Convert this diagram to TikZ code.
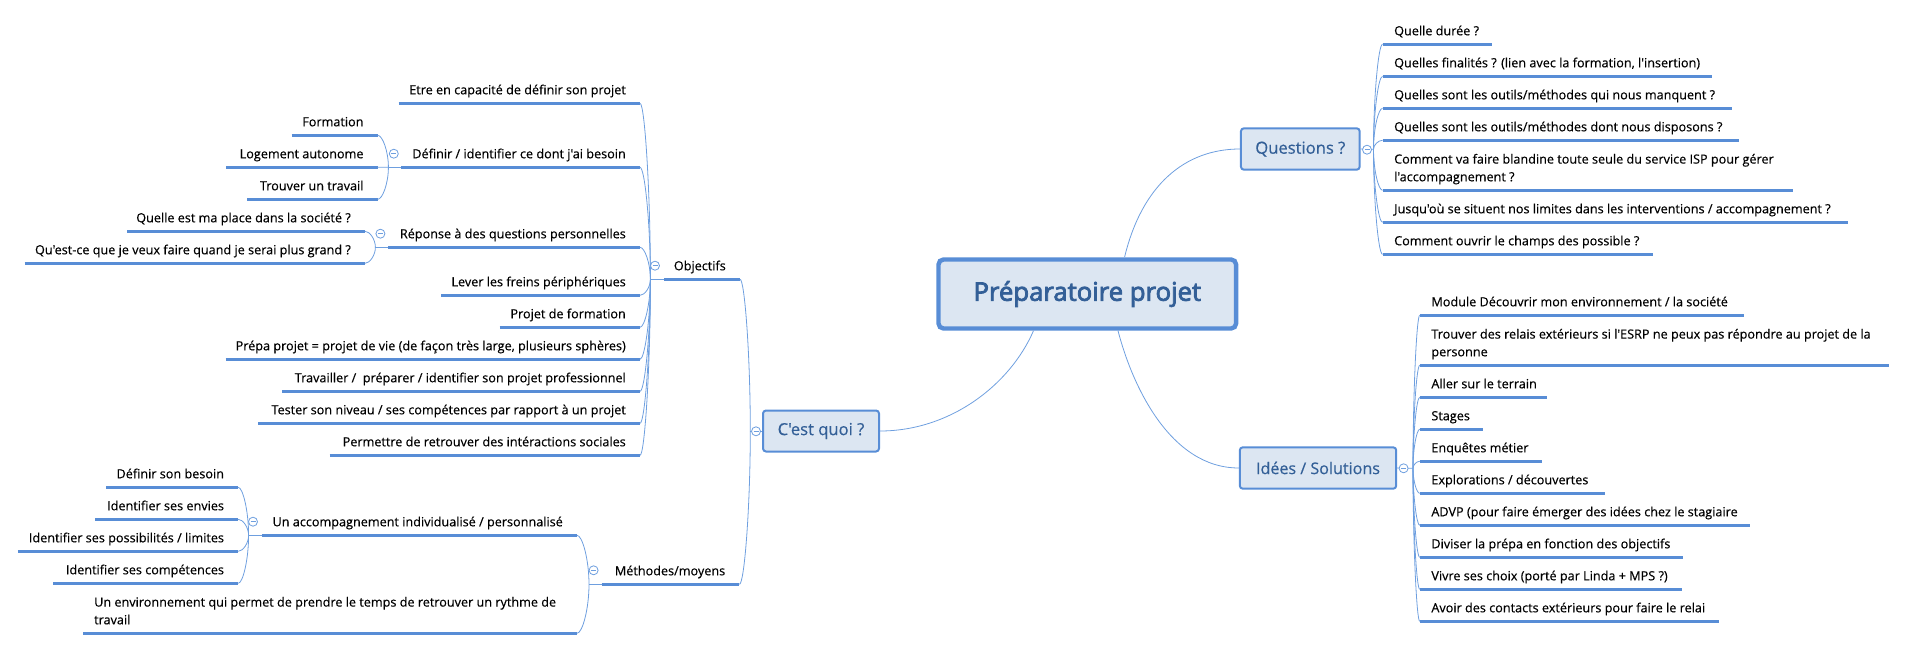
\documentclass[tikz,border=0pt]{standalone}
\usepackage{fontspec}
\setmainfont{Open Sans}[Ligatures=TeXOff,FakeBold=0.4]
\newfontfamily\rootfont{Open Sans}[Ligatures=TeXOff,FakeBold=3]
\usetikzlibrary{calc}
\definecolor{mmline}{HTML}{588DD6}
\definecolor{mmthin}{HTML}{6E9FDF}
\definecolor{mmfill}{HTML}{DCE6F2}
\definecolor{mmtext}{HTML}{335F97}
\tikzset{
  x=1pt,y=-1pt,
  leaf/.style={inner sep=0pt,text depth=3pt,align=left,text=black,font=\fontsize{12.65}{17.7}\selectfont},
  uline/.style={draw=mmline,line width=2.6pt},
  branch/.style={draw=mmthin,line width=0.8pt},
  topicbox/.style={draw=mmline,fill=mmfill,rounded corners=3pt,line width=2pt,inner sep=0pt,text=mmtext,font=\fontsize{16.6}{20}\selectfont},
  centralbox/.style={draw=mmline,fill=mmfill,rounded corners=5pt,line width=4.4pt,inner sep=0pt,text=mmtext,font=\rootfont\fontsize{25.7}{30}\selectfont},
  collapse/.style={circle,draw=mmthin,fill=white,line width=0.8pt,minimum size=9pt,inner sep=0pt,
    path picture={\draw[mmthin,line width=0.8pt] ([xshift=-2.5pt]path picture bounding box.center) -- ([xshift=2.5pt]path picture bounding box.center);}},
}
% name, x left, x right, y, text : text flush to the right end, branch point at the right end
\newcommand\lleaf[5]{%
  \node[leaf,anchor=south east] (#1) at ({#3-14},{#4-5.8}) {#5};
  \coordinate (#1e) at (#3,#4);
  \coordinate (#1s) at (#2,#4);
  \draw[uline] (#1s) -- (#1e);}
% name, x left, x right, y, text : text flush to the left end, branch point at the left end
\newcommand\rleaf[5]{%
  \node[leaf,anchor=south west] (#1) at ({#2+11.5},{#4-5.8}) {#5};
  \coordinate (#1e) at (#2,#4);
  \coordinate (#1s) at (#3,#4);
  \draw[uline] (#1e) -- (#1s);}
\newcommand\bough[2]{%
  \draw[branch] (#1) .. controls ($(#1)!0.5!(#1|-#2)$) and ($(#2)!0.45!(#1|-#2)$) .. (#2);}
\begin{document}
\begin{tikzpicture}
\useasboundingbox (0,0) rectangle (1906,650);
% central and main topics
\node[centralbox,minimum width=297.6pt,minimum height=69pt] (root) at (1087.3,294) {\raisebox{-3pt}{Préparatoire projet}};
\node[topicbox,minimum width=118.7pt,minimum height=41.4pt] (quest) at (1300.3,149) {\raisebox{-1pt}{Questions ?}};
\node[topicbox,minimum width=156.4pt,minimum height=41.4pt] (idees) at (1318,468) {\raisebox{-1pt}{\fontsize{16.1}{20}\selectfont Idées / Solutions}};
\node[topicbox,minimum width=116pt,minimum height=41pt] (cest) at (821,431) {\raisebox{-1pt}{C'est quoi ?}};
\coordinate (rootq) at (1124.6,257);
\coordinate (rooti) at (1118,330.7);
\coordinate (rootc) at (1033.5,330.7);
\draw[branch] (rootq) .. controls (1142,185) and (1185,149) .. (quest.west);
\draw[branch] (rooti) .. controls (1132,385) and (1170,468) .. (idees.west);
\draw[branch] (rootc) .. controls (1010,385) and (950,431) .. (cest.east);
% junctions
\coordinate (jq) at (1373.5,149.3);
\coordinate (ji) at (1413,468.3);
\coordinate (jc) at (750.3,431);
\coordinate (jo) at (650.4,279.3);
\coordinate (jm) at (589,584.3);
\coordinate (jd) at (388.4,167.3);
\coordinate (jr) at (375.4,247.3);
\coordinate (ja) at (248.6,535.3);
\draw[branch] (quest.east) -- (jq);
\draw[branch] (idees.east) -- (ji);
\draw[branch] (cest.west) -- (jc);
% Questions
\rleaf{q1}{1382.5}{1491.6}{44.3}{Quelle durée ?}
\rleaf{q2}{1382.5}{1712.3}{76.3}{Quelles finalités ? (lien avec la formation, l'insertion)}
\rleaf{q3}{1382.5}{1731.5}{108.3}{Quelles sont les outils/méthodes qui nous manquent ?}
\rleaf{q4}{1382.5}{1739.2}{140.3}{Quelles sont les outils/méthodes dont nous disposons ?}
\rleaf{q5}{1382.5}{1792.5}{190.3}{Comment va faire blandine toute seule du service ISP pour gérer\\l'accompagnement ?}
\rleaf{q6}{1382.5}{1848.3}{222.3}{Jusqu'où se situent nos limites dans les interventions / accompagnement ?}
\rleaf{q7}{1382.5}{1653.2}{254.3}{Comment ouvrir le champs des possible ?}
\foreach \n in {q1,q2,q3,q4,q5,q6,q7} {\bough{jq}{\n e}}
% Idees
\rleaf{i1}{1419.7}{1744.3}{315.3}{Module Découvrir mon environnement / la société}
\rleaf{i2}{1419.7}{1888.7}{365.3}{Trouver des relais extérieurs si l'ESRP ne peux pas répondre au projet de la\\personne}
\rleaf{i3}{1419.7}{1547.4}{397.3}{Aller sur le terrain}
\rleaf{i4}{1419.7}{1483.2}{429.3}{Stages}
\rleaf{i5}{1419.7}{1542.2}{461.3}{Enquêtes métier}
\rleaf{i6}{1419.7}{1604.5}{493.3}{Explorations / découvertes}
\rleaf{i7}{1419.7}{1749.5}{525.3}{ADVP (pour faire émerger des idées chez le stagiaire}
\rleaf{i8}{1419.7}{1683.4}{557.3}{Diviser la prépa en fonction des objectifs}
\rleaf{i9}{1419.7}{1682.1}{589.3}{Vivre ses choix (porté par Linda + MPS ?)}
\rleaf{i10}{1419.7}{1718.7}{621.3}{Avoir des contacts extérieurs pour faire le relai}
\foreach \n in {i1,i2,i3,i4,i5,i6,i7,i8,i9,i10} {\bough{ji}{\n e}}
% C'est quoi
\lleaf{obj}{664}{740}{279.3}{Objectifs}
\lleaf{met}{601.6}{739.4}{584.3}{Méthodes/moyens}
\bough{jc}{obje}
\bough{jc}{mete}
\draw[branch] (jo) -- (objs);
\draw[branch] (jm) -- (mets);
% Objectifs
\lleaf{o1}{398.7}{640}{103.3}{Etre en capacité de définir son projet}
\lleaf{o2}{401}{640}{167.3}{Définir / identifier ce dont j'ai besoin}
\lleaf{o3}{388}{640}{247.3}{Réponse à des questions personnelles}
\lleaf{o4}{441}{640}{295.3}{Lever les freins périphériques}
\lleaf{o5}{499.5}{640}{327.3}{Projet de formation}
\lleaf{o6}{225.6}{640}{359.3}{Prépa projet = projet de vie (de façon très large, plusieurs sphères)}
\lleaf{o7}{282.4}{640}{391.3}{Travailler /\ \ préparer / identifier son projet professionnel}
\lleaf{o8}{258.3}{640}{423.3}{Tester son niveau / ses compétences par rapport à un projet}
\lleaf{o9}{329.5}{640}{455.3}{Permettre de retrouver des intéractions sociales}
\foreach \n in {o1,o2,o3,o4,o5,o6,o7,o8,o9} {\bough{jo}{\n e}}
\draw[branch] (jd) -- (o2s);
\draw[branch] (jr) -- (o3s);
% Definir
\lleaf{d1}{291.5}{377.7}{135.3}{Formation}
\lleaf{d2}{226}{377.7}{167.3}{Logement autonome}
\lleaf{d3}{247}{377.7}{199.3}{Trouver un travail}
\foreach \n in {d1,d2,d3} {\bough{jd}{\n e}}
% Reponse
\lleaf{r1}{127}{365}{231.3}{Quelle est ma place dans la société ?}
\lleaf{r2}{24.5}{365}{263.3}{Qu'est-ce que je veux faire quand je serai plus grand ?}
\foreach \n in {r1,r2} {\bough{jr}{\n e}}
% Methodes
\lleaf{m1}{261.8}{577}{535.3}{Un accompagnement individualisé / personnalisé}
\coordinate (m2e) at (577,633.3);
\coordinate (m2s) at (83.2,633.3);
\node[leaf,anchor=south west] (m2) at (94,627.5) {Un environnement qui permet de prendre le temps de retrouver un rythme de\\travail};
\draw[uline] (m2s) -- (m2e);
\bough{jm}{m1e}
\bough{jm}{m2e}
\draw[branch] (ja) -- (m1s);
% Accompagnement
\lleaf{a1}{106}{238.2}{487.3}{Définir son besoin}
\lleaf{a2}{95.3}{238.2}{519.3}{Identifier ses envies}
\lleaf{a3}{17.8}{238.2}{551.3}{Identifier ses possibilités / limites}
\lleaf{a4}{53.4}{238.2}{583.3}{Identifier ses compétences}
\foreach \n in {a1,a2,a3,a4} {\bough{ja}{\n e}}
% collapse markers
\node[collapse] (cq) at (1367,149.7) {};
\node[collapse] (ci) at (1403.6,468.3) {};
\node[collapse] (cc) at (756,431.3) {};
\node[collapse] (co) at (655,265.7) {};
\node[collapse] (cm) at (593.6,570.3) {};
\node[collapse] (cd) at (393.8,153.7) {};
\node[collapse] (cr) at (380.4,233.7) {};
\node[collapse] (ca) at (253,521.7) {};
\end{tikzpicture}
\end{document}
